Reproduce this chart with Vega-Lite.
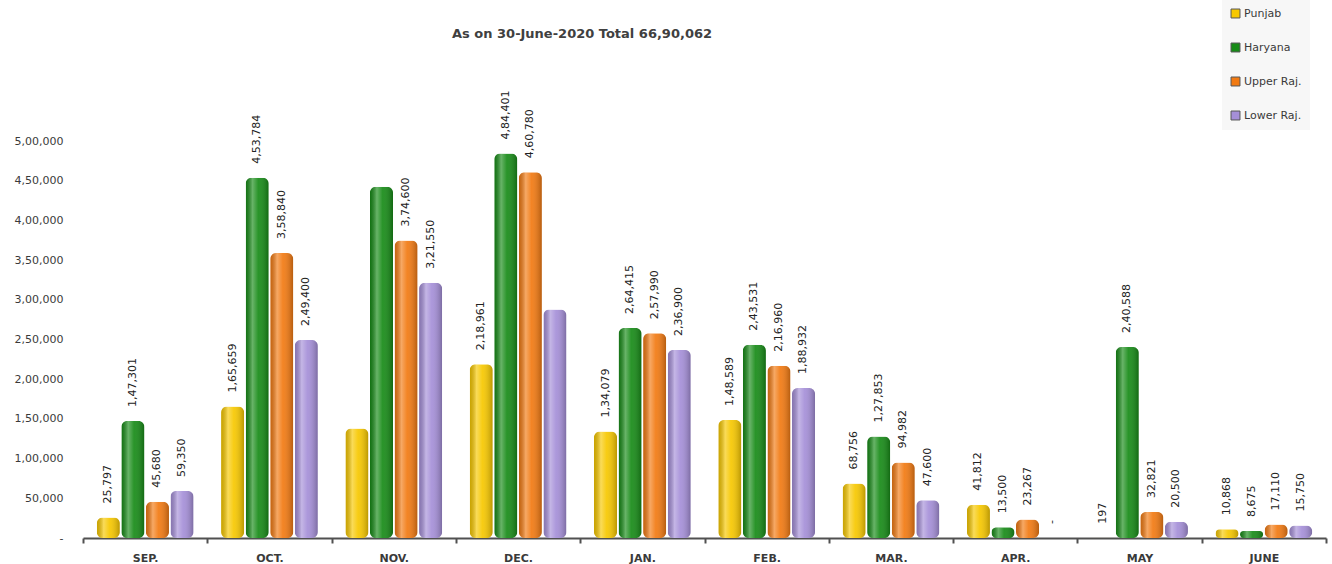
{
  "$schema": "https://vega.github.io/schema/vega-lite/v6.json",
  "width": 1243,
  "height": 397,
  "autosize": "none",
  "padding": {"left": 83, "top": 141, "right": 6, "bottom": 26},
  "background": "white",
  "config": {"view": {"stroke": null}, "font": "DejaVu Sans"},
  "title": {
    "text": "As on 30-June-2020 Total 66,90,062",
    "frame": "group",
    "anchor": "start",
    "dx": 369,
    "offset": -54,
    "baseline": "bottom",
    "fontSize": 13,
    "fontWeight": "bold",
    "color": "#404040",
    "font": "DejaVu Sans"
  },
  "data": {
    "values": [
      {"month": "SEP.", "state": "Punjab", "value": 25797},
      {"month": "SEP.", "state": "Haryana", "value": 147301},
      {"month": "SEP.", "state": "Upper Raj.", "value": 45680},
      {"month": "SEP.", "state": "Lower Raj.", "value": 59350},
      {"month": "OCT.", "state": "Punjab", "value": 165659},
      {"month": "OCT.", "state": "Haryana", "value": 453784},
      {"month": "OCT.", "state": "Upper Raj.", "value": 358840},
      {"month": "OCT.", "state": "Lower Raj.", "value": 249400},
      {"month": "NOV.", "state": "Punjab", "value": 138000},
      {"month": "NOV.", "state": "Haryana", "value": 442500},
      {"month": "NOV.", "state": "Upper Raj.", "value": 374600},
      {"month": "NOV.", "state": "Lower Raj.", "value": 321550},
      {"month": "DEC.", "state": "Punjab", "value": 218961},
      {"month": "DEC.", "state": "Haryana", "value": 484401},
      {"month": "DEC.", "state": "Upper Raj.", "value": 460780},
      {"month": "DEC.", "state": "Lower Raj.", "value": 287784},
      {"month": "JAN.", "state": "Punjab", "value": 134079},
      {"month": "JAN.", "state": "Haryana", "value": 264415},
      {"month": "JAN.", "state": "Upper Raj.", "value": 257990},
      {"month": "JAN.", "state": "Lower Raj.", "value": 236900},
      {"month": "FEB.", "state": "Punjab", "value": 148589},
      {"month": "FEB.", "state": "Haryana", "value": 243531},
      {"month": "FEB.", "state": "Upper Raj.", "value": 216960},
      {"month": "FEB.", "state": "Lower Raj.", "value": 188932},
      {"month": "MAR.", "state": "Punjab", "value": 68756},
      {"month": "MAR.", "state": "Haryana", "value": 127853},
      {"month": "MAR.", "state": "Upper Raj.", "value": 94982},
      {"month": "MAR.", "state": "Lower Raj.", "value": 47600},
      {"month": "APR.", "state": "Punjab", "value": 41812},
      {"month": "APR.", "state": "Haryana", "value": 13500},
      {"month": "APR.", "state": "Upper Raj.", "value": 23267},
      {"month": "APR.", "state": "Lower Raj.", "value": 0},
      {"month": "MAY", "state": "Punjab", "value": 197},
      {"month": "MAY", "state": "Haryana", "value": 240588},
      {"month": "MAY", "state": "Upper Raj.", "value": 32821},
      {"month": "MAY", "state": "Lower Raj.", "value": 20500},
      {"month": "JUNE", "state": "Punjab", "value": 10868},
      {"month": "JUNE", "state": "Haryana", "value": 8675},
      {"month": "JUNE", "state": "Upper Raj.", "value": 17110},
      {"month": "JUNE", "state": "Lower Raj.", "value": 15750}
    ]
  },
  "encoding": {
    "x": {
      "field": "month",
      "type": "nominal",
      "sort": ["SEP.", "OCT.", "NOV.", "DEC.", "JAN.", "FEB.", "MAR.", "APR.", "MAY", "JUNE"],
      "scale": {"paddingInner": 0, "paddingOuter": 0},
      "axis": {
        "title": null,
        "labelAngle": 0,
        "tickBand": "extent",
        "domainColor": "#505050",
        "domainWidth": 2,
        "tickColor": "#505050",
        "tickWidth": 2,
        "tickSize": 5,
        "labelFontWeight": "bold",
        "labelFontSize": 11,
        "labelColor": "#3a3a3a",
        "labelPadding": 9,
        "labelFont": "DejaVu Sans"
      }
    },
    "xOffset": {
      "field": "state",
      "sort": ["Punjab", "Haryana", "Upper Raj.", "Lower Raj."],
      "scale": {"paddingInner": 0.06, "paddingOuter": 0.56}
    },
    "y": {
      "field": "value",
      "type": "quantitative",
      "scale": {"domain": [0, 500000]},
      "axis": {
        "title": null,
        "domain": false,
        "ticks": false,
        "grid": false,
        "values": [0, 50000, 100000, 150000, 200000, 250000, 300000, 350000, 400000, 450000, 500000],
        "labelExpr": "datum.value == 0 ? '-' : (datum.value >= 100000 ? floor(datum.value/100000) + ',' + format(floor(datum.value/1000) % 100, '02d') + ',' + format(datum.value % 1000, '03d') : format(datum.value, ','))",
        "labelFontSize": 11,
        "labelColor": "#3a3a3a",
        "labelPadding": 20,
        "labelFont": "DejaVu Sans"
      }
    }
  },
  "layer": [
    {
      "mark": {"type": "bar", "cornerRadius": 6},
      "encoding": {
        "color": {
          "field": "state",
          "type": "nominal",
          "sort": ["Punjab", "Haryana", "Upper Raj.", "Lower Raj."],
          "scale": {
            "domain": ["Punjab", "Haryana", "Upper Raj.", "Lower Raj."],
            "range": ["#f7c800", "#178b17", "#f27a12", "#a58fd8"]
          },
          "legend": {
            "title": null,
            "orient": "none",
            "legendX": 1139,
            "legendY": -141,
            "symbolType": "square",
            "symbolSize": 80,
            "symbolStrokeColor": "#555555",
            "symbolStrokeWidth": 1,
            "labelFontSize": 11,
            "labelColor": "#3a3a3a",
            "labelFont": "DejaVu Sans",
            "rowPadding": 21,
            "padding": 8,
            "fillColor": "#f7f7f7",
            "labelOffset": 3
          }
        }
      }
    },
    {
      "mark": {
        "type": "bar",
        "cornerRadius": 6,
        "fill": {
          "gradient": "linear",
          "x1": 0, "x2": 1, "y1": 0, "y2": 0,
          "stops": [
            {"offset": 0, "color": "rgba(0,0,0,0.18)"},
            {"offset": 0.3, "color": "rgba(255,255,255,0.35)"},
            {"offset": 0.55, "color": "rgba(255,255,255,0.08)"},
            {"offset": 1, "color": "rgba(0,0,0,0.25)"}
          ]
        }
      },
      "encoding": {}
    },
    {
      "transform": [
        {"filter": "!(datum.month == 'NOV.' && (datum.state == 'Punjab' || datum.state == 'Haryana')) && !(datum.month == 'DEC.' && datum.state == 'Lower Raj.')"},
        {"calculate": "datum.value == 0 ? '-' : (datum.value >= 100000 ? floor(datum.value/100000) + ',' + format(floor(datum.value/1000) % 100, '02d') + ',' + format(datum.value % 1000, '03d') : format(datum.value, ','))", "as": "lbl"}
      ],
      "mark": {
        "type": "text",
        "angle": 270,
        "align": "left",
        "baseline": "middle",
        "dx": 14,
        "fontSize": 11,
        "color": "#222222",
        "font": "DejaVu Sans"
      },
      "encoding": {
        "text": {"field": "lbl"}
      }
    }
  ]
}
